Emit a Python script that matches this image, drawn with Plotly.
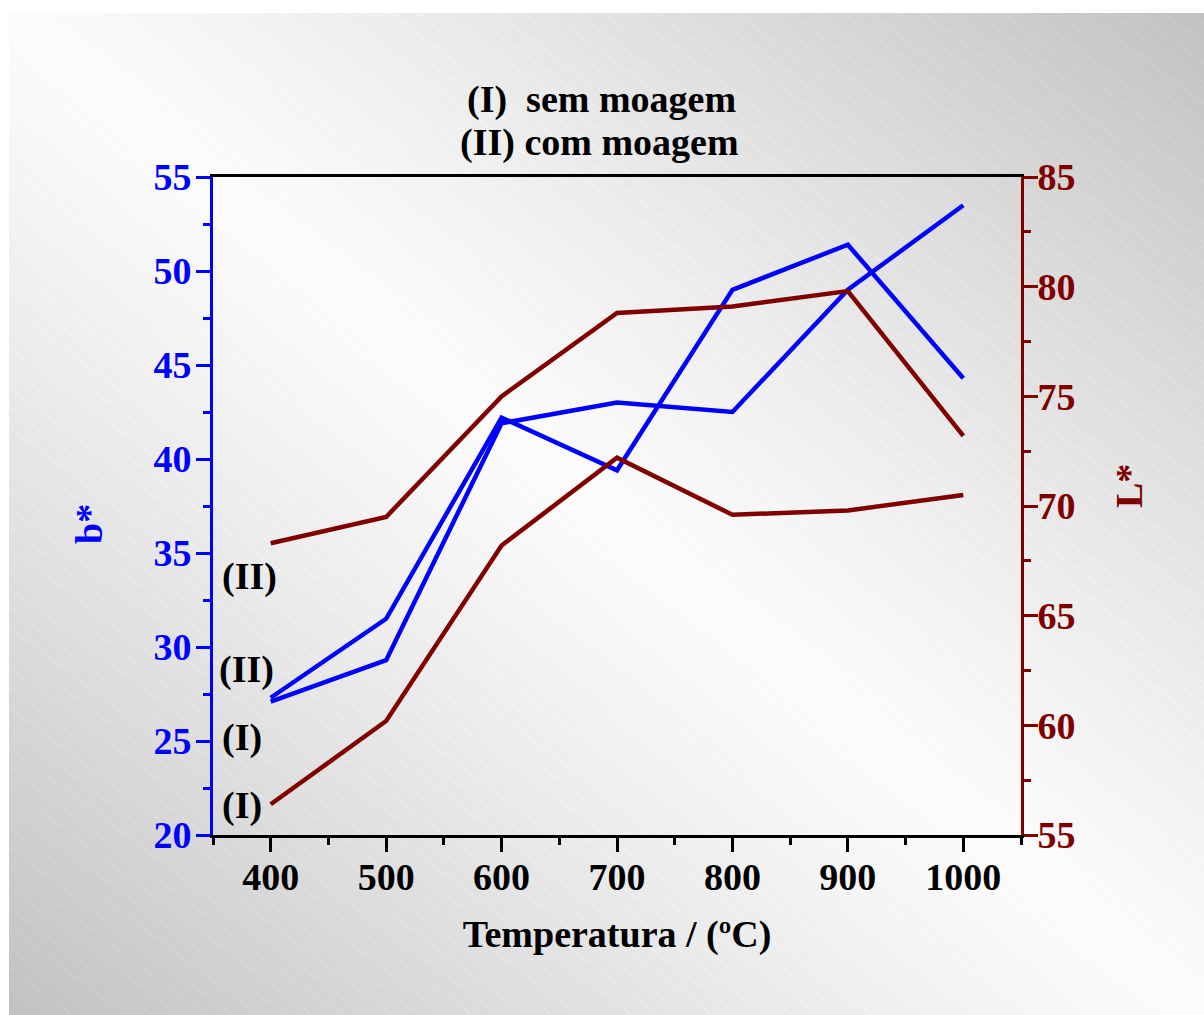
import base64
import struct
import zlib

import numpy as np
import plotly.graph_objects as go

# ---- data ----
temperatura = [400, 500, 600, 700, 800, 900, 1000]

b_sem_moagem = [27.1, 29.3, 41.9, 43.0, 42.5, 49.0, 53.5]   # (I)
b_com_moagem = [27.3, 31.5, 42.2, 39.4, 49.0, 51.4, 44.3]   # (II)

L_sem_moagem = [56.4, 60.2, 68.2, 72.2, 69.6, 69.8, 70.5]   # (I)
L_com_moagem = [68.3, 69.5, 75.0, 78.8, 79.1, 79.8, 73.2]   # (II)

x_ticks = [400, 500, 600, 700, 800, 900, 1000]

BLUE = "#0000FF"
RED = "#800000"
FONT = "Liberation Serif"

W, H = 1204, 1015
L_M, R_M, T_M, B_M = 213, W - 1021, 177, H - 835
PW, PH = W - L_M - R_M, H - T_M - B_M


def px(x):
    return (x - L_M) / PW


def py(y):
    return (H - B_M - y) / PH


# ---- slide background: grey diagonal gradient with faint stripes ----
def background_png():
    yy, xx = np.mgrid[0:H, 0:W].astype(float)
    u = (xx - 9) / (W - 9)
    v = (yy - 13) / (H - 13)
    d = np.abs(u - v)
    g = 252 - 58 * d ** 1.15
    t = np.mod(yy - 0.75 * xx, 20.0)
    g = np.where(t < 1.0, g + 9 * np.clip(d * 3, 0, 1), g)
    g = np.clip(g, 0, 255)
    g[(xx < 9) | (yy < 13)] = 255
    img = np.repeat(g.astype(np.uint8)[:, :, None], 3, axis=2)
    raw = b"".join(b"\x00" + img[r].tobytes() for r in range(H))

    def chunk(tag, data):
        c = struct.pack(">I", len(data)) + tag + data
        return c + struct.pack(">I", zlib.crc32(tag + data) & 0xFFFFFFFF)

    png = b"\x89PNG\r\n\x1a\n"
    png += chunk(b"IHDR", struct.pack(">IIBBBBB", W, H, 8, 2, 0, 0, 0))
    png += chunk(b"IDAT", zlib.compress(raw, 9))
    png += chunk(b"IEND", b"")
    return "data:image/png;base64," + base64.b64encode(png).decode()


fig = go.Figure()

LINE_W = 4.5
fig.add_trace(go.Scatter(x=temperatura, y=b_sem_moagem, mode="lines",
                         line=dict(color=BLUE, width=LINE_W), yaxis="y"))
fig.add_trace(go.Scatter(x=temperatura, y=b_com_moagem, mode="lines",
                         line=dict(color=BLUE, width=LINE_W), yaxis="y"))
fig.add_trace(go.Scatter(x=temperatura, y=L_sem_moagem, mode="lines",
                         line=dict(color=RED, width=LINE_W), yaxis="y2"))
fig.add_trace(go.Scatter(x=temperatura, y=L_com_moagem, mode="lines",
                         line=dict(color=RED, width=LINE_W), yaxis="y2"))

tick_font = dict(family=FONT, size=38, weight="bold")

fig.update_layout(
    width=W, height=H,
    margin=dict(l=L_M, r=R_M, t=T_M, b=B_M, pad=0),
    paper_bgcolor="white",
    plot_bgcolor="rgba(0,0,0,0)",
    showlegend=False,
    images=[dict(source=background_png(), xref="paper", yref="paper",
                 x=px(0), y=py(0), sizex=W / PW, sizey=H / PH,
                 xanchor="left", yanchor="top", sizing="stretch",
                 layer="below")],
    xaxis=dict(
        range=[350, 1050], tickvals=x_ticks, ticktext=[str(v) for v in x_ticks],
        ticks="outside", ticklen=14, tickwidth=3, tickcolor="black",
        minor=dict(dtick=50, tick0=350, ticks="outside", ticklen=7,
                   tickwidth=3, tickcolor="black"),
        showline=True, linecolor="black", linewidth=3, mirror=True,
        showgrid=False, zeroline=False,
        tickfont=dict(tick_font, color="black"),
        ticklabelstandoff=-8,
        title=dict(text="Temperatura / (ºC)", standoff=24,
                   font=dict(family=FONT, size=38, weight="bold", color="black")),
    ),
    yaxis=dict(
        range=[20, 55], dtick=5, tick0=20,
        ticks="outside", ticklen=14, tickwidth=3, tickcolor=BLUE,
        minor=dict(dtick=2.5, ticks="outside", ticklen=7, tickwidth=3,
                   tickcolor=BLUE),
        showline=True, linecolor=BLUE, linewidth=3,
        showgrid=False, zeroline=False,
        tickfont=dict(tick_font, color=BLUE),
        ticklabelstandoff=-3,
    ),
    yaxis2=dict(
        range=[55, 85], dtick=5, tick0=55, overlaying="y", side="right",
        ticks="outside", ticklen=14, tickwidth=3, tickcolor=RED,
        minor=dict(dtick=2.5, ticks="outside", ticklen=7, tickwidth=3,
                   tickcolor=RED),
        showline=True, linecolor=RED, linewidth=3,
        showgrid=False, zeroline=False,
        tickfont=dict(tick_font, color=RED),
        ticklabelstandoff=-8,
    ),
)

ann_font = dict(family=FONT, size=38, weight="bold", color="black")


def label(text, x, y, color="black", angle=0):
    fig.add_annotation(text=text, xref="paper", yref="paper", x=px(x), y=py(y),
                       xanchor="center", yanchor="middle", showarrow=False,
                       textangle=angle, font=dict(ann_font, color=color))


# header
label("(I)  sem moagem", 601, 99)
label("(II) com moagem", 599, 143)

# axis titles
label("b*", 89, 524, color=BLUE, angle=-90)
label("L*", 1129, 486, color=RED, angle=-90)

# series tags at the start of each curve
label("(II)", 249, 576)
label("(II)", 246, 669)
label("(I)", 242, 737)
label("(I)", 242, 805)

fig.write_html("out.html")
